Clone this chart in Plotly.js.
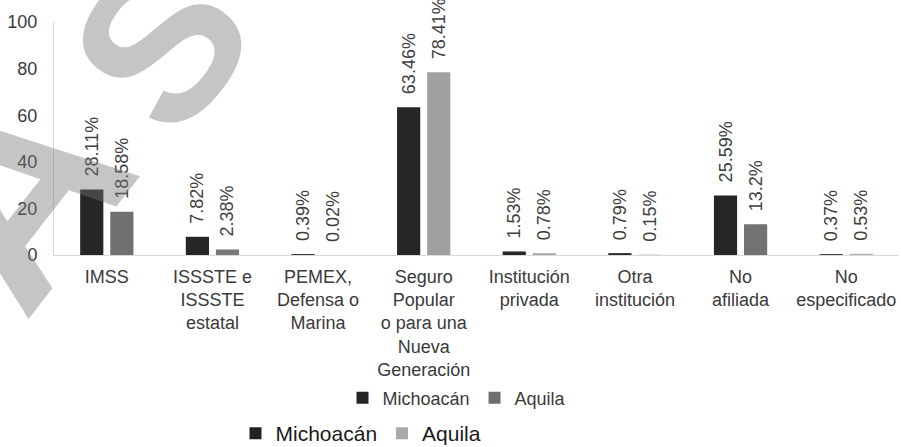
<!DOCTYPE html>
<html>
<head>
<meta charset="utf-8">
<script src="https://cdn.plot.ly/plotly-3.0.1.min.js"></script>
<style>html,body{margin:0;padding:0;background:#fff;}#chart{width:901px;height:447px;}</style>
</head>
<body>
<div id="chart"></div>
<script>
// ---- data ----
const categories = [
  "IMSS",
  "ISSSTE e<br>ISSSTE<br>estatal",
  "PEMEX,<br>Defensa o<br>Marina",
  "Seguro<br>Popular<br>o para una<br>Nueva<br>Generación",
  "Institución<br>privada",
  "Otra<br>institución",
  "No<br>afiliada",
  "No<br>especificado"
];
const michoacan = [28.11, 7.82, 0.39, 63.46, 1.53, 0.79, 25.59, 0.37];
const aquila    = [18.58, 2.38, 0.02, 78.41, 0.78, 0.15, 13.2, 0.53];
const seriesNames = ["Michoacán", "Aquila"];
const yTicks = [0, 20, 40, 60, 80, 100];

// ---- style ----
const FONT = '"Liberation Sans", Arial, sans-serif';
const darkColor = '#262626';
const aquilaColors = ['#707070', '#7a7a7a', '#9a9a9a', '#a0a0a0', '#a8a8a8', '#a8a8a8', '#727272', '#b0b0b0'];
const pad = '\u00a0\u00a0';

const labelFmt = v => pad + v + '%';

const traces = [
  {
    type: 'bar', name: seriesNames[0], x: categories, y: michoacan,
    marker: {color: darkColor},
    text: michoacan.map(labelFmt), textposition: 'outside', textangle: -90,
    textfont: {family: FONT, size: 18, color: '#404040'},
    cliponaxis: false, constraintext: 'none', offsetgroup: 'a', legend: 'legend', hoverinfo: 'x+y'
  },
  {
    type: 'bar', name: seriesNames[1], x: categories, y: aquila,
    marker: {color: aquilaColors},
    text: aquila.map(labelFmt), textposition: 'outside', textangle: -90,
    textfont: {family: FONT, size: 18, color: '#404040'},
    cliponaxis: false, constraintext: 'none', offsetgroup: 'b', legend: 'legend', hoverinfo: 'x+y'
  },
  {
    type: 'bar', name: seriesNames[0], x: categories, y: categories.map(() => null),
    marker: {color: '#222222'}, offsetgroup: 'a', legend: 'legend2', hoverinfo: 'skip'
  },
  {
    type: 'bar', name: seriesNames[1], x: categories, y: categories.map(() => null),
    marker: {color: '#aaaaaa'}, offsetgroup: 'b', legend: 'legend2', hoverinfo: 'skip'
  }
];

// plot area: x 54..899, y 22..255
const L = 54, R = 899, T = 22, B = 255;
const px = x => (x - L) / (R - L);
const py = y => (B - y) / (B - T);

const wmColor = 'rgba(117,117,117,0.42)';
const wm = (ch, x, y, size) => ({
  text: '<b>' + ch + '</b>', xref: 'paper', yref: 'paper', x: px(x), y: py(y),
  xanchor: 'center', yanchor: 'middle', showarrow: false, textangle: -52,
  font: {family: FONT, size: size, color: wmColor}
});

const layout = {
  width: 901, height: 447,
  margin: {l: L, r: 901 - R, t: T, b: 447 - B, pad: 0, autoexpand: false},
  paper_bgcolor: '#fff', plot_bgcolor: '#fff',
  font: {family: FONT, size: 18, color: '#3a3a3a'},
  barmode: 'group', bargap: 0.43, bargroupgap: 0.23,
  showlegend: true,
  xaxis: {
    type: 'category', showline: true, linecolor: '#d9d9d9', linewidth: 1,
    ticks: '', showgrid: false, zeroline: false, ticklabelstandoff: 5,
    tickfont: {family: FONT, size: 18, color: '#3a3a3a'}, tickangle: 0, automargin: false
  },
  yaxis: {
    range: [0, 100], tickvals: yTicks, showline: true, linecolor: '#d9d9d9', linewidth: 1,
    ticks: '', showgrid: false, zeroline: false, ticklabelstandoff: 12,
    tickfont: {family: FONT, size: 18, color: '#3a3a3a'}, automargin: false
  },
  legend: {
    orientation: 'h', x: px(457), y: py(398), xanchor: 'center', yanchor: 'middle',
    font: {family: FONT, size: 18, color: '#3a3a3a'}, bgcolor: 'rgba(0,0,0,0)', itemwidth: 30
  },
  legend2: {
    orientation: 'h', x: px(361), y: py(454), xanchor: 'center', yanchor: 'bottom',
    font: {family: FONT, size: 21, color: '#1a1a1a'}, bgcolor: 'rgba(0,0,0,0)', itemwidth: 30
  },
  annotations: [
    wm('A', 10, 190, 270),
    wm('S', 160, 44, 215)
  ]
};

Plotly.newPlot('chart', traces, layout, {staticPlot: true, displayModeBar: false});
</script>
</body>
</html>
